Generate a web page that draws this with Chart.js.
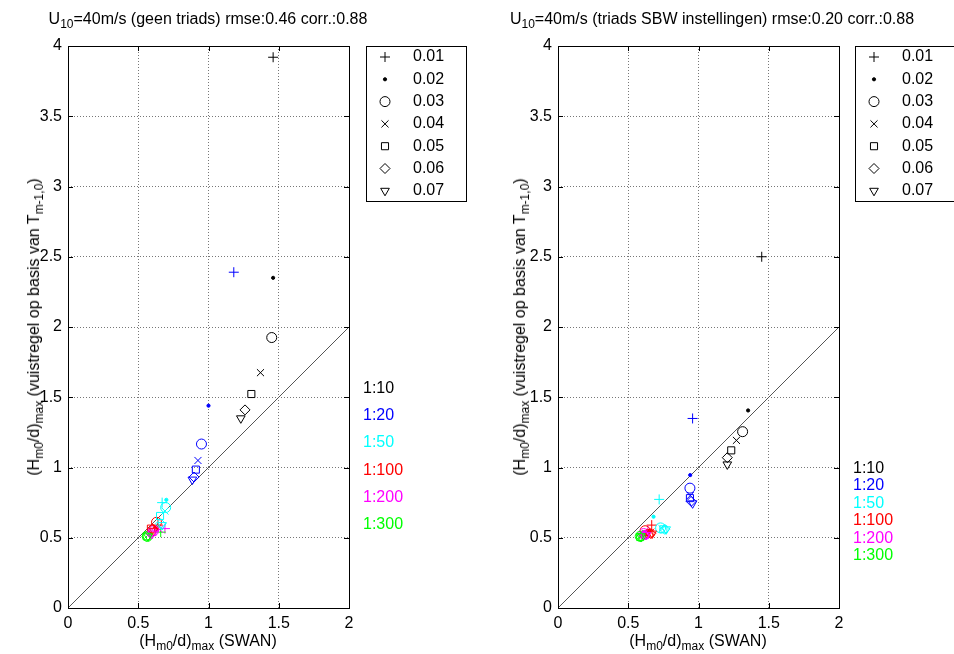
<!DOCTYPE html>
<html>
<head>
<meta charset="utf-8">
<script src="https://cdn.jsdelivr.net/npm/chart.js@4.4.0/dist/chart.umd.min.js"></script>
<style>
  body { margin: 0; background: #fff; width: 954px; height: 654px; overflow: hidden; position: relative;
         font-family: "Liberation Sans", Arial, sans-serif; }
  canvas.panel { position: absolute; top: 0; }
  .txt { position: absolute; font-size: 16px; color: #000; white-space: nowrap; line-height: 1; }
  .txt sub { font-size: 12px; vertical-align: -4px; line-height: 0; }
  .ctr { transform: translateX(-50%); }
  .ylab { transform: translate(-50%, -50%) rotate(-90deg); }
</style>
</head>
<body>
<canvas id="leftChart" class="panel" width="477" height="654" style="left:0"></canvas>
<canvas id="rightChart" class="panel" width="477" height="654" style="left:477px"></canvas>

<div class="txt ctr" style="left:208px; top:11px">U<sub>10</sub>=40m/s (geen triads) rmse:0.46 corr.:0.88</div>
<div class="txt ctr" style="left:712px; top:11px">U<sub>10</sub>=40m/s (triads SBW instellingen) rmse:0.20 corr.:0.88</div>
<div class="txt ctr" style="left:208px; top:633px">(H<sub>m0</sub>/d)<sub>max</sub> (SWAN)</div>
<div class="txt ctr" style="left:698px; top:633px">(H<sub>m0</sub>/d)<sub>max</sub> (SWAN)</div>
<div class="txt ylab" style="left:34px; top:327px">(H<sub>m0</sub>/d)<sub>max</sub> (vuistregel op basis van T<sub>m-1,0</sub>)</div>
<div class="txt ylab" style="left:520px; top:327px">(H<sub>m0</sub>/d)<sub>max</sub> (vuistregel op basis van T<sub>m-1,0</sub>)</div>
<div id="slopesLeft"></div>
<div id="slopesRight"></div>

<script>
// talud-hellingen (kleur) en golfsteilheden (symbool)
const slopes = ['1:10', '1:20', '1:50', '1:100', '1:200', '1:300'];
const steepness = ['0.01', '0.02', '0.03', '0.04', '0.05', '0.06', '0.07'];
const xTicks = [0, 0.5, 1, 1.5, 2];
const yTicks = [0, 0.5, 1, 1.5, 2, 2.5, 3, 3.5, 4];

// geen triads: SWAN (x) en vuistregel (y), rij = steilheid, kolom = helling
const swanGeen = [
  [1.46, 1.18, 0.67, 0.64, 0.69, 0.66],
  [1.46, 1.00, 0.70, 0.62, 0.63, 0.58],
  [1.45, 0.95, 0.695, 0.63, 0.61, 0.565],
  [1.37, 0.925, 0.69, 0.62, 0.65, 0.57],
  [1.305, 0.91, 0.655, 0.59, 0.60, 0.56],
  [1.26, 0.897, 0.66, 0.60, 0.59, 0.56],
  [1.23, 0.885, 0.67, 0.61, 0.60, 0.57]
];
const ruleGeen = [
  [3.92, 2.39, 0.75, 0.59, 0.565, 0.54],
  [2.35, 1.44, 0.77, 0.57, 0.55, 0.52],
  [1.925, 1.167, 0.715, 0.61, 0.55, 0.51],
  [1.675, 1.05, 0.69, 0.58, 0.56, 0.52],
  [1.523, 0.985, 0.655, 0.565, 0.54, 0.51],
  [1.41, 0.932, 0.60, 0.56, 0.53, 0.51],
  [1.35, 0.914, 0.59, 0.55, 0.53, 0.51]
];

// triads met SBW instellingen
const swanSbw = [
  [1.45, 0.958, 0.72, 0.667, 0.64, 0.60],
  [1.353, 0.941, 0.68, 0.65, 0.62, 0.59],
  [1.314, 0.939, 0.73, 0.62, 0.61, 0.585],
  [1.27, 0.941, 0.74, 0.66, 0.63, 0.59],
  [1.233, 0.939, 0.75, 0.65, 0.62, 0.585],
  [1.205, 0.948, 0.76, 0.66, 0.62, 0.59],
  [1.205, 0.958, 0.77, 0.67, 0.63, 0.59]
];
const ruleSbw = [
  [2.50, 1.349, 0.773, 0.59, 0.55, 0.52],
  [1.406, 0.946, 0.65, 0.55, 0.53, 0.51],
  [1.255, 0.853, 0.57, 0.55, 0.53, 0.51],
  [1.193, 0.80, 0.565, 0.54, 0.53, 0.51],
  [1.122, 0.782, 0.56, 0.53, 0.52, 0.505],
  [1.07, 0.759, 0.56, 0.53, 0.52, 0.505],
  [1.022, 0.745, 0.56, 0.53, 0.52, 0.51]
];

const slopeColors = ['#000000', '#0000ff', '#00ffff', '#ff0000', '#ff00ff', '#00ff00'];
const markers = ['cross', 'circle', 'circle', 'crossRot', 'rect', 'rectRot', 'triangle'];
const FONT = { family: '"Liberation Sans", Arial, sans-serif', size: 16 };

function makeDatasets(swan, rule) {
  const sets = steepness.map((s, i) => ({
    type: 'scatter',
    label: s,
    data: swan[i].map((x, j) => ({ x: x, y: rule[i][j] })),
    pointStyle: markers[i],
    pointRadius: i === 1 ? 1.6 : 5,
    pointRotation: i === 6 ? 180 : 0,
    pointBorderColor: slopeColors,
    pointBackgroundColor: i === 1 ? slopeColors : 'rgba(0,0,0,0)',
    pointBorderWidth: 1,
    order: 7 - i
  }));
  // 1:1 lijn
  sets.push({
    type: 'line',
    label: '1:1',
    data: [{ x: 0, y: 0 }, { x: 2, y: 2 }],
    borderColor: '#555',
    borderWidth: 1,
    pointRadius: 0,
    order: 10
  });
  return sets;
}

// kader met naar binnen wijzende tickjes
const axesBox = {
  id: 'axesBox',
  afterDatasetsDraw(chart) {
    const { ctx, chartArea: a, scales } = chart;
    ctx.save();
    ctx.strokeStyle = '#000';
    ctx.lineWidth = 1;
    ctx.strokeRect(Math.round(a.left) + 0.5, Math.round(a.top) + 0.5,
                   Math.round(a.width), Math.round(a.height));
    ctx.beginPath();
    xTicks.forEach(v => {
      const px = Math.round(scales.x.getPixelForValue(v)) + 0.5;
      ctx.moveTo(px, a.bottom); ctx.lineTo(px, a.bottom - 5);
      ctx.moveTo(px, a.top); ctx.lineTo(px, a.top + 5);
    });
    yTicks.forEach(v => {
      const py = Math.round(scales.y.getPixelForValue(v)) + 0.5;
      ctx.moveTo(a.left, py); ctx.lineTo(a.left + 5, py);
      ctx.moveTo(a.right, py); ctx.lineTo(a.right - 5, py);
    });
    ctx.stroke();
    ctx.restore();
  }
};

// legenda in MATLAB stijl (symbool + steilheid in een kader)
const markerLegend = {
  id: 'markerLegend',
  afterDraw(chart, args, opts) {
    const ctx = chart.ctx;
    ctx.save();
    ctx.strokeStyle = '#000';
    ctx.lineWidth = 1;
    ctx.fillStyle = '#fff';
    ctx.fillRect(opts.left, opts.top, opts.width, opts.height);
    ctx.strokeRect(opts.left + 0.5, opts.top + 0.5, opts.width, opts.height);
    ctx.font = '16px "Liberation Sans", Arial, sans-serif';
    ctx.textBaseline = 'middle';
    chart.data.datasets.slice(0, steepness.length).forEach((ds, i) => {
      const y = opts.top + opts.first + i * opts.row;
      ctx.strokeStyle = '#000';
      ctx.fillStyle = i === 1 ? '#000' : 'rgba(0,0,0,0)';
      Chart.helpers.drawPoint(ctx, {
        pointStyle: ds.pointStyle,
        radius: ds.pointRadius,
        rotation: ds.pointRotation,
        borderWidth: 1
      }, opts.left + opts.markerX, y);
      ctx.fillStyle = '#000';
      ctx.fillText(ds.label, opts.left + opts.textX, y);
    });
    ctx.restore();
  }
};

function makeChart(id, swan, rule, axisLeft, legendLeft) {
  const plotRight = axisLeft + 281;
  return new Chart(document.getElementById(id), {
    data: { datasets: makeDatasets(swan, rule) },
    plugins: [axesBox, markerLegend],
    options: {
      responsive: false,
      animation: false,
      events: [],
      layout: { padding: { left: 0, top: 46, right: 477 - plotRight, bottom: 0 } },
      plugins: {
        legend: { display: false },
        tooltip: { enabled: false },
        markerLegend: { left: legendLeft, top: 46, width: 100, height: 155, first: 11, row: 22.3, markerX: 19, textX: 47 }
      },
      scales: {
        x: {
          type: 'linear', min: 0, max: 2,
          afterBuildTicks: s => { s.ticks = xTicks.map(v => ({ value: v })); },
          afterFit: s => { s.height = 46; },
          grid: { color: '#777', lineWidth: 1, drawTicks: false },
          border: { display: false, dash: [1, 2] },
          ticks: { color: '#000', font: FONT, padding: 6, maxRotation: 0, callback: v => String(v) }
        },
        y: {
          type: 'linear', min: 0, max: 4,
          afterBuildTicks: s => { s.ticks = yTicks.map(v => ({ value: v })); },
          afterFit: s => { s.width = axisLeft; },
          grid: { color: '#777', lineWidth: 1, drawTicks: false },
          border: { display: false, dash: [1, 2] },
          ticks: { color: '#000', font: FONT, padding: 6, callback: v => String(v) }
        }
      }
    }
  });
}

makeChart('leftChart', swanGeen, ruleGeen, 68, 366);
makeChart('rightChart', swanSbw, ruleSbw, 81, 378);

// hellingslabels in de kleur van de hellingen
function slopeLabels(elId, left, top, step) {
  const box = document.getElementById(elId);
  slopes.forEach((s, j) => {
    const d = document.createElement('div');
    d.className = 'txt';
    d.style.left = left + 'px';
    d.style.top = (top + j * step) + 'px';
    d.style.color = slopeColors[j];
    d.textContent = s;
    box.appendChild(d);
  });
}
slopeLabels('slopesLeft', 363, 380, 27.2);
slopeLabels('slopesRight', 853, 460, 17.4);
</script>
</body>
</html>
